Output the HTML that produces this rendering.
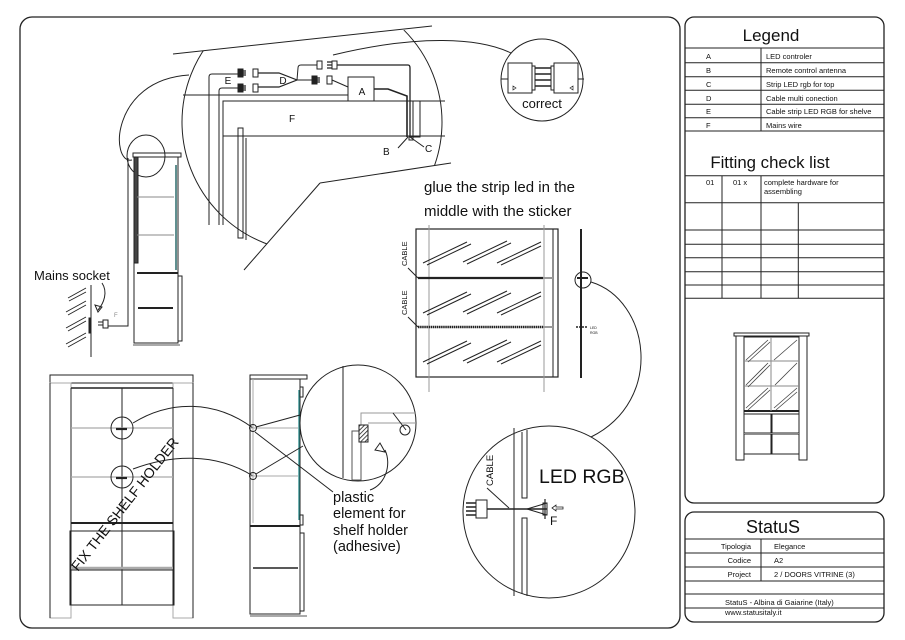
<!DOCTYPE html>
<html><head><meta charset="utf-8"><style>
html,body{margin:0;padding:0;background:#fff;}
svg{display:block;font-family:"Liberation Sans",Arial,sans-serif;}
</style></head><body>
<svg width="905" height="640" viewBox="0 0 905 640" xmlns="http://www.w3.org/2000/svg">
<defs>
<clipPath id="zc"><polygon points="150,56.5 174,54 434,27 480,22 480,158.6 320,183 220,297.5 150,297.5"/></clipPath>
<pattern id="hat" width="3" height="3" patternUnits="userSpaceOnUse" patternTransform="rotate(45)"><rect width="3" height="3" fill="#fff"/><line x1="0" y1="0" x2="0" y2="3" stroke="#222" stroke-width="1.6"/></pattern>
</defs>
<rect width="905" height="640" fill="#fff"/>
<rect x="20" y="17" width="660" height="611" rx="12" fill="none" stroke="#222" stroke-width="1.3"/>
<rect x="685" y="17" width="199" height="486" rx="9" fill="none" stroke="#222" stroke-width="1.3"/>
<rect x="685" y="512" width="199" height="110" rx="9" fill="none" stroke="#222" stroke-width="1.3"/>

<g stroke="#222" stroke-width="1" fill="none">
<line x1="685" y1="48" x2="884" y2="48"/><line x1="685" y1="62.7" x2="884" y2="62.7"/><line x1="685" y1="76.7" x2="884" y2="76.7"/><line x1="685" y1="90.3" x2="884" y2="90.3"/><line x1="685" y1="104.3" x2="884" y2="104.3"/><line x1="685" y1="117.7" x2="884" y2="117.7"/><line x1="685" y1="131" x2="884" y2="131"/>
<line x1="761" y1="48" x2="761" y2="131"/>
<line x1="685" y1="175.7" x2="884" y2="175.7"/><line x1="685" y1="202.7" x2="884" y2="202.7"/><line x1="685" y1="230" x2="884" y2="230"/><line x1="685" y1="244.3" x2="884" y2="244.3"/><line x1="685" y1="257.7" x2="884" y2="257.7"/><line x1="685" y1="271.7" x2="884" y2="271.7"/><line x1="685" y1="285" x2="884" y2="285"/><line x1="685" y1="298.3" x2="884" y2="298.3"/>
<line x1="722" y1="175.7" x2="722" y2="298.3"/><line x1="761" y1="175.7" x2="761" y2="298.3"/><line x1="798.3" y1="202.7" x2="798.3" y2="298.3"/>
<line x1="685" y1="539" x2="884" y2="539"/><line x1="685" y1="553" x2="884" y2="553"/><line x1="685" y1="567" x2="884" y2="567"/><line x1="685" y1="581" x2="884" y2="581"/><line x1="685" y1="594" x2="884" y2="594"/><line x1="685" y1="608" x2="884" y2="608"/>
<line x1="761" y1="539" x2="761" y2="581"/>
</g>
<g fill="#111" text-anchor="middle"><text x="771" y="41" font-size="17">Legend</text><text x="770" y="168" font-size="16.8">Fitting check list</text><text x="773" y="533" font-size="18">StatuS</text></g>
<g font-size="7.5" fill="#111">
<text x="706" y="59">A</text><text x="706" y="73">B</text><text x="706" y="87">C</text><text x="706" y="101">D</text><text x="706" y="114">E</text><text x="706" y="128">F</text>
<text x="766" y="59">LED controler</text><text x="766" y="73">Remote control antenna</text><text x="766" y="87">Strip LED rgb for top</text><text x="766" y="101">Cable multi conection</text><text x="766" y="114">Cable strip LED RGB for shelve</text><text x="766" y="128">Mains wire</text>
<text x="706" y="185">01</text><text x="733" y="185">01 x</text><text x="764" y="185">complete hardware for</text><text x="764" y="194">assembling</text>
<text x="751" y="549" text-anchor="end">Tipologia</text><text x="751" y="563" text-anchor="end">Codice</text><text x="751" y="577" text-anchor="end">Project</text>
<text x="774" y="549">Elegance</text><text x="774" y="563">A2</text><text x="774" y="577">2 / DOORS VITRINE (3)</text>
<text x="725" y="605">StatuS - Albina di Gaiarine (Italy)</text><text x="725" y="615">www.statusitaly.it</text>
</g>
<g stroke="#222" stroke-width="1" fill="none">
<rect x="734" y="333" width="75" height="3"/>
<rect x="736" y="336" width="8" height="124"/><rect x="799" y="336" width="8" height="124"/>
<rect x="744" y="337" width="55" height="74"/>
<line x1="744" y1="411" x2="799" y2="411" stroke-width="2"/>
<rect x="744" y="414" width="27" height="19"/><rect x="772" y="414" width="27" height="19"/>
<rect x="744" y="434" width="27" height="20"/><rect x="772" y="434" width="27" height="20"/>
<line x1="744" y1="454" x2="799" y2="454"/>
<g stroke="#888"><line x1="771" y1="337" x2="771" y2="411"/><line x1="744" y1="361" x2="799" y2="361"/><line x1="744" y1="386" x2="799" y2="386"/><line x1="744" y1="433.5" x2="799" y2="433.5"/></g>
<g stroke="#444" stroke-width="0.8"><line x1="746" y1="360" x2="768" y2="340"/><line x1="748" y1="362" x2="770" y2="342"/><line x1="746" y1="385" x2="768" y2="363"/><line x1="748" y1="387" x2="770" y2="365"/><line x1="746" y1="408" x2="768" y2="388"/><line x1="748" y1="410" x2="770" y2="390"/><line x1="774" y1="360" x2="797" y2="340"/><line x1="775" y1="385" x2="797" y2="363"/><line x1="774" y1="408" x2="797" y2="388"/><line x1="776" y1="410" x2="797" y2="392"/></g>
</g>

<g stroke="#222" stroke-width="1" fill="none">
<line x1="173" y1="54" x2="432" y2="26"/>
<line x1="320" y1="183" x2="451" y2="163"/>
<line x1="320" y1="183" x2="244" y2="270"/>
<g clip-path="url(#zc)">
<circle cx="312" cy="122" r="130"/>
<line x1="183" y1="95" x2="348" y2="95"/>
<path d="M223 225 V101 H445 M223 136 H445"/>
<line x1="219" y1="225" x2="219" y2="91"/><path d="M219 91 q0 -3 3 -3 H238"/>
<line x1="209" y1="225" x2="209" y2="77"/><path d="M209 77 q0 -3 3 -3 H238"/>
<rect x="238" y="128" width="5" height="110"/><line x1="246" y1="138" x2="246" y2="240"/>
</g>
<rect x="238" y="69" width="5" height="8" fill="#222"/><path d="M243 71 h3 M243 73 h3 M243 75 h3" stroke-width="1.2"/><rect x="253" y="69" width="5" height="8"/>
<rect x="238" y="84" width="5" height="8" fill="#222"/><path d="M243 86 h3 M243 88 h3 M243 90 h3" stroke-width="1.2"/><rect x="253" y="84" width="5" height="8"/>
<path d="M258 73 H279 L297 80 L279 87 H258" stroke-width="1.2"/>
<path d="M297 80 L298 68 q0 -3 3 -3 H317 M297 80 H312"/>
<rect x="317" y="61" width="5" height="8"/><rect x="332" y="61" width="5" height="8"/><path d="M327 62 h5 M327 65 h5 M327 68 h5" stroke-width="1.2"/>
<rect x="312" y="76" width="5" height="8" fill="#222"/><path d="M317 78 h3 M317 80 h3 M317 82 h3" stroke-width="1.2"/><rect x="327" y="76" width="5" height="8"/>
<path d="M332 80 L348 87" />
<path d="M337 65 H408 q2 0 2 3 V137" stroke-width="1.3"/>
<rect x="348" y="77" width="26" height="24" fill="#fff"/>
<path d="M374 89 H388 L407 96 V137" stroke-width="1.6"/>
<rect x="413" y="101" width="7" height="36"/>
<path d="M408 137 L398 148 M410 137 L424 147"/>
<rect x="409" y="137" width="4" height="3"/>
<path d="M511 53 C480 38 420 34 333 55"/>
<path d="M189 75 C110 80 110 165 132 160"/>
<circle cx="542" cy="80" r="41"/>
<rect x="508" y="63" width="24" height="30"/><rect x="532" y="66" width="3" height="24"/>
<rect x="554" y="63" width="24" height="30"/><rect x="551" y="66" width="3" height="24"/>
<path d="M535 68 h16 M535 74 h16 M535 80 h16 M535 86 h16" stroke-width="1.6"/>
<line x1="501" y1="79" x2="508" y2="79"/><line x1="578" y1="79" x2="584" y2="79"/>
<path d="M513 86 l3 2 l-3 2z M573 86 l-3 2 l3 2z" stroke-width="0.7"/>
<ellipse cx="146" cy="156" rx="19" ry="21"/>
<rect x="133" y="153" width="48" height="4"/>
<rect x="134" y="157" width="44" height="186"/>
<rect x="134" y="157" width="4" height="106" fill="#444"/>
<line x1="137" y1="197" x2="174" y2="197" stroke="#888"/><line x1="137" y1="235" x2="174" y2="235" stroke="#888"/>
<line x1="137" y1="273" x2="178" y2="273" stroke-width="2"/>
<line x1="138" y1="308" x2="173" y2="308" stroke-width="2"/>
<line x1="176" y1="165" x2="176" y2="270" stroke="#2a6a6a" stroke-width="1.5"/>
<rect x="178" y="276" width="4" height="65"/>
<line x1="133" y1="345" x2="180" y2="345" stroke="#aaa" stroke-width="2"/>
<path d="M128 158 V326 H108" />
<rect x="103" y="320" width="5" height="8"/><path d="M98 322 h5 M98 325 h5"/>
<line x1="91" y1="285" x2="91" y2="357"/>
<rect x="89" y="318" width="2" height="15" fill="#222"/>
<g stroke-width="0.9"><path d="M68 298 l18 -10 M69 301 l17 -9 M66 312 l20 -11 M68 315 l18 -10 M66 328 l20 -11 M68 331 l18 -10 M66 344 l20 -11 M68 347 l18 -10"/></g>
<path d="M102 283 C108 292 104 303 98 310"/><path d="M95 305 l3 7 l4 -5z"/>
<rect x="416" y="229" width="142" height="148" stroke-width="1.2"/>
<line x1="553" y1="229" x2="553" y2="377"/>
<line x1="429" y1="225" x2="429" y2="392" stroke="#999"/><line x1="544" y1="225" x2="544" y2="392" stroke="#999"/>
<line x1="418" y1="278" x2="543" y2="278" stroke-width="2.2"/><line x1="543" y1="278" x2="553" y2="278" stroke="#999" stroke-width="2"/>
<line x1="418" y1="327" x2="543" y2="327" stroke-width="2.6" stroke-dasharray="1.5 0.6"/><line x1="543" y1="327" x2="553" y2="327" stroke="#999" stroke-width="2"/>
<path d="M408 268 L418 278 M408 317 L418 327"/>
<g stroke-width="1">
<path d="M423 263 L467 242 M427 265 L471 244 M463 262 L507 241 M467 264 L511 243 M497 263 L541 242 M501 265 L541 246"/>
<path d="M423 313 L467 292 M427 315 L471 294 M463 312 L507 291 M467 314 L511 293 M497 313 L541 292 M501 315 L541 296"/>
<path d="M423 362 L467 341 M427 364 L471 343 M463 361 L507 340 M467 363 L511 342 M497 362 L541 341 M501 364 L541 345"/>
</g>
<line x1="581" y1="229" x2="581" y2="378" stroke-width="2"/>
<circle cx="583" cy="280" r="8"/><line x1="577" y1="278" x2="588" y2="278" stroke-width="2"/>
<line x1="576" y1="327" x2="587" y2="327" stroke-width="1.5" stroke-dasharray="2 1"/>
<path d="M591 282 C650 300 665 400 591 437"/>
<circle cx="549" cy="512" r="86"/>
<line x1="514" y1="428" x2="514" y2="596"/>
<path d="M522 432 V498 H527 V430 M522 594 V518 H527 V596"/>
<rect x="476" y="500" width="11" height="18"/>
<path d="M466 503 h10 M466 507 h10 M466 511 h10 M466 515 h10" stroke-width="1.4"/>
<line x1="487" y1="509" x2="547" y2="509" stroke-width="1.6"/>
<path d="M527 509 L547 503 M527 509 L547 515"/>
<rect x="543" y="503" width="4" height="12"/>
<line x1="545" y1="499" x2="545" y2="519" stroke-width="1.2"/>
<path d="M552 508 l4 -3 v2 h7 v2 h-7 v2z" stroke-width="0.8"/>
<line x1="487" y1="488" x2="509" y2="508"/>
<rect x="50" y="375" width="143" height="8"/>
<rect x="50" y="383" width="21" height="235" stroke="#aaa"/><rect x="173" y="383" width="20" height="235" stroke="#aaa"/>
<line x1="50" y1="383" x2="50" y2="618"/><line x1="193" y1="383" x2="193" y2="618"/>
<line x1="71" y1="388" x2="71" y2="605"/><line x1="173" y1="388" x2="173" y2="605"/>
<line x1="71" y1="388" x2="173" y2="388" stroke-width="1.5"/>
<line x1="122" y1="388" x2="122" y2="605"/>
<line x1="71" y1="428" x2="173" y2="428" stroke="#aaa" stroke-width="1.3"/><line x1="71" y1="477" x2="173" y2="477" stroke="#aaa" stroke-width="1.3"/>
<line x1="71" y1="523" x2="173" y2="523" stroke-width="2"/>
<rect x="70" y="531" width="104" height="74"/>
<line x1="71" y1="568" x2="173" y2="568" stroke="#aaa" stroke-width="2.5"/>
<line x1="71" y1="570" x2="173" y2="570"/>
<ellipse cx="122" cy="428" rx="11" ry="11"/><line x1="116" y1="429" x2="127" y2="429" stroke-width="2.2"/>
<ellipse cx="122" cy="477" rx="11" ry="11"/><line x1="116" y1="478" x2="127" y2="478" stroke-width="2.2"/>
<path d="M133 423 C170 400 215 400 253 428"/><path d="M133 469 C170 455 215 452 253 476"/>
<rect x="250" y="375" width="57" height="4"/>
<rect x="250" y="379" width="50" height="235"/>
<line x1="253" y1="379" x2="253" y2="523" stroke="#aaa"/>
<line x1="299" y1="390" x2="299" y2="520" stroke="#2a8a8a" stroke-width="1.3"/>
<rect x="300" y="387" width="3" height="10"/><rect x="300" y="515" width="3" height="10"/>
<line x1="251" y1="428" x2="298" y2="428" stroke="#aaa"/><line x1="251" y1="476" x2="298" y2="476" stroke="#aaa"/>
<line x1="250" y1="526" x2="300" y2="526" stroke-width="2"/>
<line x1="253" y1="568" x2="298" y2="568" stroke-width="1.5"/>
<rect x="300" y="533" width="4" height="78"/>
<line x1="250" y1="616" x2="307" y2="616" stroke="#aaa" stroke-width="2"/>
<circle cx="253" cy="428" r="3.5"/><circle cx="253" cy="476" r="3.5"/>
<line x1="256" y1="427" x2="300" y2="415"/><line x1="256" y1="474" x2="303" y2="446"/>
<line x1="255" y1="432" x2="333" y2="492"/>
<circle cx="358" cy="423" r="58" fill="#fff"/>
<line x1="343" y1="366" x2="343" y2="478"/>
<rect x="352" y="431" width="9" height="49" stroke="#555"/>
<path d="M361 425 V413 H416 M368 423 H416" stroke="#999"/>
<rect x="359" y="425" width="9" height="17" fill="url(#hat)"/>
<circle cx="405" cy="430" r="5"/><line x1="393" y1="413" x2="406" y2="430"/>
<path d="M375 450 L380 443 L385 452z"/>
<path d="M385 450 C392 465 385 485 370 490"/>
</g>
<g fill="#111">
<text x="362" y="95" font-size="10" text-anchor="middle">A</text>
<text x="292" y="122" font-size="10" text-anchor="middle">F</text>
<text x="228" y="84" font-size="10" text-anchor="middle">E</text>
<text x="283" y="84" font-size="10" text-anchor="middle">D</text>
<text x="383" y="155" font-size="10">B</text><text x="425" y="152" font-size="10">C</text>
<text x="542" y="108" font-size="13" text-anchor="middle">correct</text>
<text x="34" y="280" font-size="13">Mains socket</text>
<text x="114" y="317" font-size="6" fill="#888">F</text>
<text x="424" y="192" font-size="15">glue the strip led  in the</text>
<text x="424" y="216" font-size="15">middle with the sticker</text>
<text transform="translate(407,266) rotate(-90)" font-size="7.5">CABLE</text>
<text transform="translate(407,315) rotate(-90)" font-size="7.5">CABLE</text>
<text x="590" y="329" font-size="3.5">LED</text><text x="590" y="334" font-size="3.5">RGB</text>
<text x="539" y="483" font-size="19.5">LED RGB</text>
<text transform="translate(493,486) rotate(-90)" font-size="9.5">CABLE</text>
<text x="550" y="525" font-size="12">F</text>
<text transform="translate(78,572) rotate(-52)" font-size="14">FIX THE SHELF HOLDER</text>
<g font-size="14.5"><text x="333" y="502">plastic</text><text x="333" y="518">element for</text><text x="333" y="535">shelf holder</text><text x="333" y="551">(adhesive)</text></g>
</g>
</svg>
</body></html>
